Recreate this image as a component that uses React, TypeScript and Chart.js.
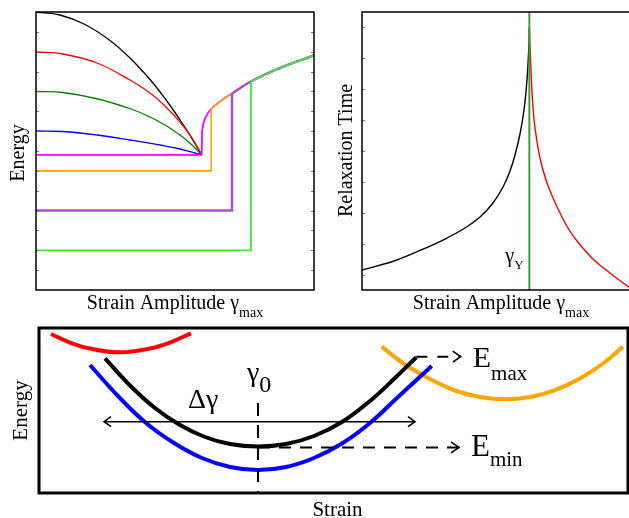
import React, { useEffect, useRef } from "react";
import { Chart, registerables } from "chart.js";

Chart.register(...registerables);

type P = [number, number];

// ---------------- Panel A : Energy vs strain amplitude ----------------
const energyBlack: P[] = [[0, 14], [0.863, 13.849], [1.763, 13.37], [2.662, 12.565], [3.381, 11.683], [4.101, 10.601], [4.64, 9.644], [5.18, 8.571], [5.54, 7.791], [5.96, 6.8]];
const energyRed: P[] = [[0, 11.986], [0.971, 11.885], [2.194, 11.432], [3.381, 10.576], [4.101, 9.921], [4.64, 9.266], [5.18, 8.46], [5.612, 7.655], [5.96, 6.8]];
const energyGreen: P[] = [[0, 9.997], [0.971, 9.946], [2.23, 9.619], [3.417, 9.115], [4.101, 8.712], [4.64, 8.309], [5.18, 7.806], [5.612, 7.302], [5.96, 6.8]];
const energyBlue: P[] = [[0, 8.007], [0.971, 7.982], [2.194, 7.806], [3.381, 7.554], [4.568, 7.277], [5.18, 7.101], [5.96, 6.8]];
const yieldBranch: P[] = [[5.96, 6.8], [5.971, 7.554], [5.982, 8.058], [6.079, 8.647], [6.3, 9.115], [6.619, 9.493], [7.05, 9.896], [7.73, 10.5], [8.777, 11.18], [9.604, 11.618], [10, 11.82]];
const stepLevels = [6.8, 6.0, 4.0, 2.0];
const stepJumps = [5.96, 6.3, 7.05, 7.73];
const energyTicks = [1, 2, 3, 4, 5, 6, 7, 8, 9, 10, 11, 12, 13];

// ---------------- Panel B : Relaxation time ----------------
const relaxBelow: P[] = [[0, 0.647], [1.151, 0.94], [2.086, 1.28], [2.986, 1.651], [3.705, 2.007], [4.245, 2.363], [4.712, 2.817], [5.072, 3.334], [5.324, 3.853], [5.504, 4.37], [5.683, 5.05], [5.827, 5.827], [5.935, 6.798], [5.996, 7.77], [6.02, 8.5]];
const relaxAbove: P[] = [[6.02, 8.5], [6.079, 7.122], [6.133, 6.151], [6.223, 5.244], [6.403, 4.273], [6.619, 3.561], [6.871, 2.978], [7.122, 2.493], [7.41, 2.007], [7.734, 1.586], [8.309, 1.004], [8.921, 0.55], [9.604, 0.097], [10, -0.1]];
const yieldStrain = 6.02;
const relaxTicks = [0.5, 1.5, 2.5, 3.5, 4.5, 5.5, 6.5, 7.5, 8.5];

// ---------------- Panel C : Energy landscape ----------------
const wellRed: P[] = [[2.04, 96.36], [5.26, 91.21], [8.66, 87.58], [13.75, 85.27], [18.85, 87.58], [22.24, 91.21], [25.81, 96.79]];
const wellBlue: P[] = [[8.66, 77.58], [13.41, 58.79], [18.17, 42.42], [22.92, 30.3], [27.67, 21.21], [32.43, 15.76], [37.18, 13.94], [41.94, 15.76], [46.69, 21.21], [51.44, 30.0], [56.2, 42.42], [60.95, 58.18], [66.67, 76.97]];
const wellBlack: P[] = [[11.21, 81.64], [15.45, 65.15], [19.69, 51.52], [23.94, 41.21], [28.18, 33.94], [32.43, 29.7], [37.18, 28.18], [41.94, 29.7], [46.69, 34.55], [51.44, 43.03], [56.2, 55.76], [60.44, 69.7], [64.06, 82.24]];
const wellOrange: P[] = [[58.18, 88.67], [62.14, 77.88], [66.38, 69.09], [70.63, 62.12], [74.87, 58.18], [79.24, 56.79], [83.36, 58.18], [87.61, 62.42], [91.85, 69.39], [95.64, 78.18], [99.15, 88.67]];
const gamma0 = 37.18;
const gamma0LineTop = 54.5;
const deltaGammaLevel = 43.2;
const deltaGammaRange = [11.04, 63.84];
const eMinLevel = 27.6;
const eMinArrowEnd = 71.31;
const eMaxLevel = 82.6;
const eMaxRange = [64.06, 71.6];

// ---------------- helpers ----------------
const SERIF = '"Liberation Serif", "Times New Roman", serif';
const toXY = (pts: P[]) => pts.map(([x, y]) => ({ x, y }));

type Run = { t: string; size: number; dy?: number };
function drawRuns(ctx: CanvasRenderingContext2D, runs: Run[], x: number, base: number, align: "left" | "center") {
  const widths = runs.map((r) => {
    ctx.font = `${r.size}px ${SERIF}`;
    return ctx.measureText(r.t).width;
  });
  const total = widths.reduce((a, b) => a + b, 0);
  let cx = align === "center" ? x - total / 2 : x;
  ctx.textAlign = "left";
  ctx.textBaseline = "alphabetic";
  runs.forEach((r, i) => {
    ctx.font = `${r.size}px ${SERIF}`;
    ctx.fillText(r.t, cx, base + (r.dy || 0));
    cx += widths[i];
  });
}
function drawRotated(ctx: CanvasRenderingContext2D, text: string, bx: number, cy: number, size: number) {
  ctx.save();
  ctx.translate(bx, cy);
  ctx.rotate(-Math.PI / 2);
  ctx.font = `${size}px ${SERIF}`;
  ctx.textAlign = "center";
  ctx.textBaseline = "alphabetic";
  ctx.fillText(text, 0, 0);
  ctx.restore();
}
function line(pts: P[], color: string, width: number, extra: any = {}) {
  return {
    data: toXY(pts),
    borderColor: color,
    borderWidth: width,
    pointRadius: 0,
    fill: false,
    tension: 0.4,
    ...extra,
  };
}
function straight(pts: P[], color: string, width: number, extra: any = {}) {
  return { data: toXY(pts), borderColor: color, borderWidth: width, pointRadius: 0, fill: false, tension: 0, ...extra };
}
function baseOptions(xr: number[], yr: number[], padding: any) {
  return {
    animation: false,
    responsive: false,
    maintainAspectRatio: false,
    events: [],
    layout: { padding },
    plugins: { legend: { display: false }, tooltip: { enabled: false } },
    scales: {
      x: { type: "linear", min: xr[0], max: xr[1], display: false },
      y: { type: "linear", min: yr[0], max: yr[1], display: false },
    },
  };
}

// ---------------- chart builders ----------------
const stepColors = ["#ff00ff", "#ffa500", "#a64fd8", "#33ee33"];
const stepWidths = [1.8, 1.6, 2.5, 1.8];

function buildA() {
  const steps: any[] = [];
  for (let i = stepLevels.length - 1; i >= 0; i--) {
    const J = stepJumps[i];
    const top = yieldBranch.find((p) => Math.abs(p[0] - J) < 1e-6)!;
    steps.push(line(yieldBranch.filter((p) => p[0] >= J - 1e-6), stepColors[i], stepWidths[i]));
    steps.push(straight([[0, stepLevels[i]], [J, stepLevels[i]], [J, top[1]]], stepColors[i], stepWidths[i]));
  }
  const datasets = [
    ...steps,
    line(energyBlue, "#0000ff", 1.3),
    line(energyGreen, "#008000", 1.3),
    line(energyRed, "#ff0000", 1.3),
    line(energyBlack, "#000000", 1.3),
  ];
  const frame = {
    id: "frameA",
    afterDatasetsDraw(chart: any) {
      const { ctx, chartArea: a, scales } = chart;
      ctx.save();
      ctx.strokeStyle = "#777";
      ctx.lineWidth = 1;
      for (const t of energyTicks) {
        const py = Math.round(scales.y.getPixelForValue(t)) + 0.5;
        ctx.beginPath();
        ctx.moveTo(a.left, py);
        ctx.lineTo(a.left + 3, py);
        ctx.moveTo(a.right, py);
        ctx.lineTo(a.right - 3, py);
        ctx.stroke();
      }
      ctx.strokeStyle = "#000";
      ctx.lineWidth = 1.5;
      ctx.strokeRect(a.left, a.top, a.right - a.left, a.bottom - a.top);
      ctx.fillStyle = "#000";
      drawRuns(ctx, [{ t: "Strain Amplitude γ", size: 20 }, { t: "max", size: 14, dy: 8 }], (a.left + a.right) / 2, a.bottom + 18.5, "center");
      drawRotated(ctx, "Energy", a.left - 12, (a.top + a.bottom) / 2 + 2, 20);
      ctx.restore();
    },
  };
  return { type: "line", data: { datasets }, options: baseOptions([0, 10], [0, 14], { left: 36, top: 12, right: 6, bottom: 30 }), plugins: [frame] };
}

function buildB() {
  const datasets = [
    straight([[yieldStrain, 0], [yieldStrain, 9]], "#3c9c3c", 2),
    line(relaxAbove, "#ff0000", 1.4),
    line(relaxBelow, "#000000", 1.4),
  ];
  const frame = {
    id: "frameB",
    afterDatasetsDraw(chart: any) {
      const { ctx, chartArea: a, scales } = chart;
      ctx.save();
      ctx.strokeStyle = "#777";
      ctx.lineWidth = 1;
      for (const t of relaxTicks) {
        const py = Math.round(scales.y.getPixelForValue(t)) + 0.5;
        ctx.beginPath();
        ctx.moveTo(a.left, py);
        ctx.lineTo(a.left + 3, py);
        ctx.stroke();
      }
      ctx.strokeStyle = "#000";
      ctx.lineWidth = 1.5;
      ctx.strokeRect(a.left, a.top, a.right - a.left, a.bottom - a.top);
      ctx.fillStyle = "#000";
      drawRuns(ctx, [{ t: "Strain Amplitude γ", size: 20 }, { t: "max", size: 14, dy: 8 }], (a.left + a.right) / 2, a.bottom + 18.5, "center");
      drawRotated(ctx, "Relaxation Time", a.left - 10, (a.top + a.bottom) / 2 - 0.5, 20);
      const gx = scales.x.getPixelForValue(yieldStrain);
      drawRuns(ctx, [{ t: "γ", size: 20 }, { t: "Y", size: 13, dy: 7 }], gx - 24, a.bottom - 28, "left");
      ctx.restore();
    },
  };
  return { type: "line", data: { datasets }, options: baseOptions([0, 10], [0, 9], { left: 42, top: 12, right: 10, bottom: 30 }), plugins: [frame] };
}

function buildC() {
  const datasets = [
    straight([[gamma0, gamma0LineTop], [gamma0, 0]], "#000", 2, { borderDash: [13, 9], label: "g0" }),
    straight([[gamma0, eMinLevel], [eMinArrowEnd, eMinLevel]], "#000", 2, { borderDash: [12, 9], label: "emin" }),
    straight([[eMaxRange[0], eMaxLevel], [eMaxRange[1], eMaxLevel]], "#000", 2, { borderDash: [11, 10], label: "emax" }),
    straight([[deltaGammaRange[0], deltaGammaLevel], [deltaGammaRange[1], deltaGammaLevel]], "#000", 1.5, { label: "dg" }),
    line(wellBlack, "#000000", 4),
    line(wellBlue, "#0000ff", 4),
    line(wellRed, "#ff0000", 4),
    line(wellOrange, "#ffa500", 4),
  ];
  const arrows: Record<string, string[]> = { emin: ["end"], emax: ["end"], dg: ["start", "end"] };
  const frame = {
    id: "frameC",
    afterDatasetsDraw(chart: any) {
      const { ctx, chartArea: a, scales } = chart;
      ctx.save();
      ctx.strokeStyle = "#000";
      ctx.lineWidth = 1.6;
      chart.data.datasets.forEach((ds: any, i: number) => {
        const ends = arrows[ds.label];
        if (!ends) return;
        const pts = chart.getDatasetMeta(i).data;
        for (const e of ends) {
          const tip = e === "end" ? pts[pts.length - 1] : pts[0];
          const from = e === "end" ? pts[pts.length - 2] : pts[1];
          const dir = Math.sign(tip.x - from.x);
          const len = ds.label === "dg" ? 7 : 8;
          const hw = ds.label === "dg" ? 5 : 5.5;
          ctx.beginPath();
          ctx.moveTo(tip.x - dir * len, tip.y - hw);
          ctx.lineTo(tip.x, tip.y);
          ctx.lineTo(tip.x - dir * len, tip.y + hw);
          ctx.stroke();
        }
      });
      ctx.lineWidth = 3;
      ctx.strokeRect(a.left, a.top, a.right - a.left, a.bottom - a.top);
      ctx.fillStyle = "#000";
      drawRotated(ctx, "Energy", a.left - 12, (a.top + a.bottom) / 2, 21);
      drawRuns(ctx, [{ t: "Strain", size: 21 }], (a.left + a.right) / 2 + 4, a.bottom + 23, "center");
      const gx = scales.x.getPixelForValue(gamma0);
      drawRuns(ctx, [{ t: "γ", size: 28 }, { t: "0", size: 24, dy: 11 }], gx - 11, a.top + 53, "left");
      drawRuns(ctx, [{ t: "Δγ", size: 28 }], 188, a.top + 80, "left");
      const ex = scales.x.getPixelForValue(eMaxRange[1]);
      drawRuns(ctx, [{ t: "E", size: 30 }, { t: "max", size: 21, dy: 13 }], ex + 12, scales.y.getPixelForValue(eMaxLevel) + 10, "left");
      const nx = scales.x.getPixelForValue(eMinArrowEnd);
      drawRuns(ctx, [{ t: "E", size: 31 }, { t: "min", size: 21, dy: 10 }], nx + 12, scales.y.getPixelForValue(eMinLevel) + 9, "left");
      ctx.restore();
    },
  };
  return { type: "line", data: { datasets }, options: baseOptions([0, 100], [0, 100], { left: 39, top: 10, right: 1, bottom: 25 }), plugins: [frame] };
}

function ChartCanvas({ left, top, width, height, build }: { left: number; top: number; width: number; height: number; build: () => any }) {
  const ref = useRef<HTMLCanvasElement>(null);
  useEffect(() => {
    const chart = new Chart(ref.current as HTMLCanvasElement, build());
    return () => chart.destroy();
  }, []);
  return <canvas ref={ref} width={width} height={height} style={{ position: "absolute", left, top, width, height, display: "block" }} />;
}

export default function App() {
  return (
    <div style={{ position: "absolute", left: 0, top: 0, width: 629, height: 518, overflow: "hidden", background: "#fff" }}>
      <ChartCanvas left={0} top={0} width={320} height={320} build={buildA} />
      <ChartCanvas left={320} top={0} width={330} height={320} build={buildB} />
      <ChartCanvas left={0} top={318} width={629} height={200} build={buildC} />
    </div>
  );
}
